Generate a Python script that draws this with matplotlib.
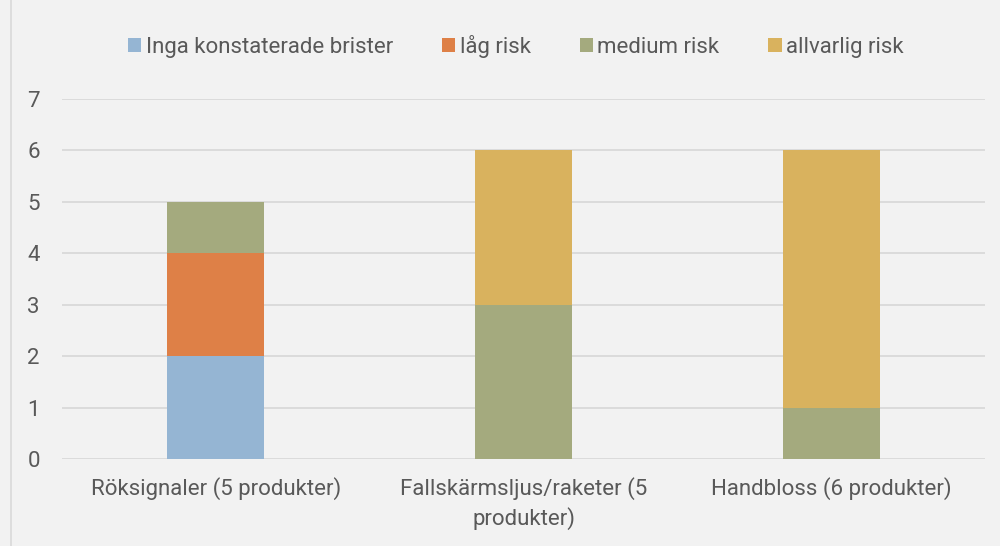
import matplotlib.pyplot as plt
import numpy as np

plt.rcParams['font.family'] = ['Roboto', 'DejaVu Sans']

categories = ['Röksignaler (5 produkter)', 'Fallskärmsljus/raketer (5\nprodukter)', 'Handbloss (6 produkter)']
series = ['Inga konstaterade brister', 'låg risk', 'medium risk', 'allvarlig risk']
inga = [2, 0, 0]
lag = [2, 0, 0]
medium = [1, 3, 1]
allvarlig = [0, 3, 5]
colors = ['#95B5D3', '#DE8047', '#A4AA7E', '#D9B25E']

bg = '#F2F2F2'
text_color = '#595959'
fs = 16

fig = plt.figure(figsize=(10, 5.46), dpi=100, facecolor=bg)
ax = fig.add_axes([0.062, 0.1593, 0.923, 0.6594], facecolor=bg)

x = np.arange(len(categories))
bottom = np.zeros(len(categories))
for vals, name, c in zip([inga, lag, medium, allvarlig], series, colors):
    ax.bar(x, vals, bottom=bottom, width=0.315, color=c, label=name, zorder=3)
    bottom += np.array(vals)

ax.set_xlim(-0.5, 2.5)
ax.set_ylim(0, 7)
ax.set_yticks(range(8))
ax.yaxis.grid(True, color='#D9D9D9', linewidth=1.3, zorder=0)
for s in ax.spines.values():
    s.set_visible(False)
ax.tick_params(axis='both', length=0, labelsize=fs, colors=text_color)
ax.tick_params(axis='y', pad=16)
ax.tick_params(axis='x', pad=13)
ax.set_xticks(x)
ax.set_xticklabels(categories, linespacing=1.4)

# outer border line on the left
fig.add_artist(plt.Line2D([0.0105, 0.0105], [0, 1], color='#D9D9D9', linewidth=1.2))

leg = fig.legend(loc='center', bbox_to_anchor=(0.516, 0.915), ncol=4, frameon=False,
                 fontsize=fs, handlelength=0.6, handleheight=0.6, handletextpad=0.2,
                 columnspacing=2.2)
for t in leg.get_texts():
    t.set_color(text_color)

fig.savefig('out.png', dpi=100, facecolor=bg)
